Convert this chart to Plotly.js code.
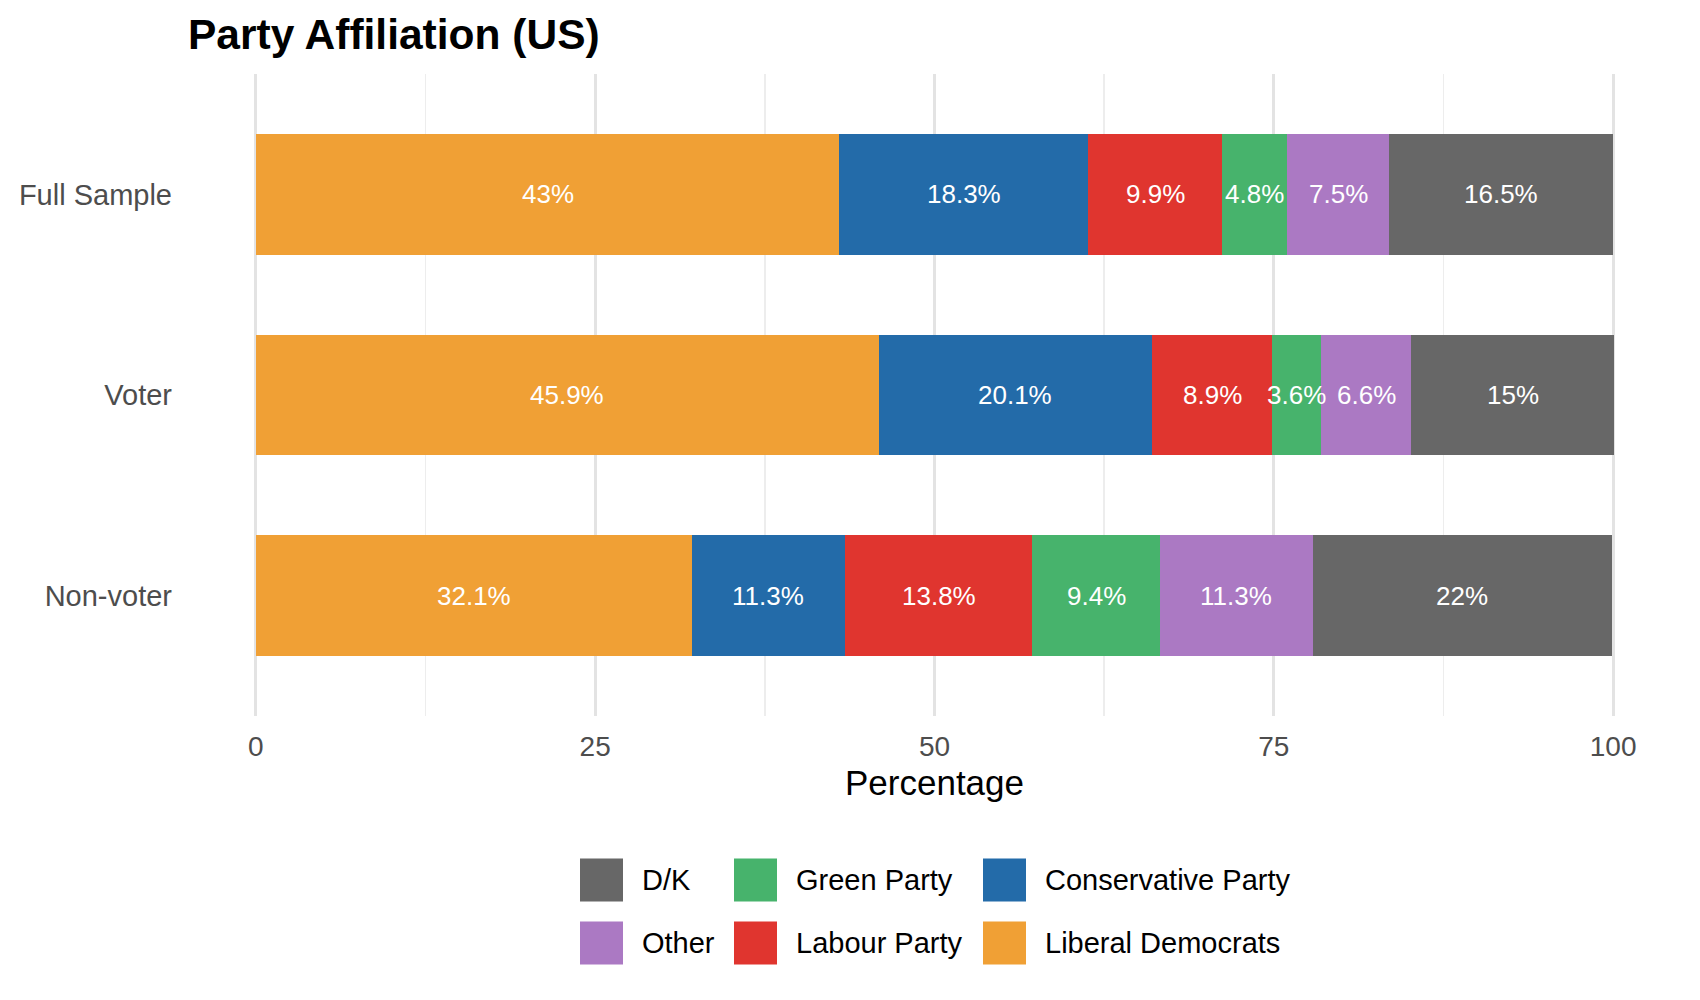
<!DOCTYPE html>
<html>
<head>
<meta charset="utf-8">
<script src="https://cdn.plot.ly/plotly-3.0.1.min.js"></script>
<style>html,body{margin:0;padding:0;background:#fff;}#chart{width:1700px;height:1000px;}</style>
</head>
<body>
<div id="chart"></div>
<script>
// ---- data ----
const groups = ["Full Sample", "Voter", "Non-voter"];
const parties = ["Liberal Democrats", "Conservative Party", "Labour Party", "Green Party", "Other", "D/K"];
const liberalDemocrats = [43, 45.9, 32.1];
const conservativeParty = [18.3, 20.1, 11.3];
const labourParty = [9.9, 8.9, 13.8];
const greenParty = [4.8, 3.6, 9.4];
const other = [7.5, 6.6, 11.3];
const dontKnow = [16.5, 15, 22];
const xTicks = [0, 25, 50, 75, 100];
const partyColors = ["#F0A035", "#236BA9", "#E0352F", "#47B36C", "#AB79C3", "#676767"];
// legend order (column-major, 3 columns x 2 rows)
const legendOrder = ["D/K", "Other", "Green Party", "Labour Party", "Conservative Party", "Liberal Democrats"];

const series = [liberalDemocrats, conservativeParty, labourParty, greenParty, other, dontKnow];
const FONT = "Liberation Sans, Arial, Helvetica, sans-serif";

const W = 1700, H = 1000;
const M = {l: 188, r: 19, t: 74, b: 284};
const PW = W - M.l - M.r, PH = H - M.t - M.b;
const px2x = p => (p - M.l) / PW;
const px2y = p => (H - M.b - p) / PH;

const traces = parties.map((name, i) => ({
  type: "bar",
  orientation: "h",
  name: name,
  y: groups,
  x: series[i],
  marker: {color: partyColors[i], line: {width: 0}},
  hoverinfo: "name+x",
  showlegend: false
}));

// bar labels centred on each segment (via data coordinates)
const annotations = [];
groups.forEach((g, gi) => {
  let cum = 0;
  series.forEach((s) => {
    const v = s[gi];
    annotations.push({
      x: cum + v / 2, y: g, xref: "x", yref: "y",
      text: String(v) + "%", showarrow: false,
      font: {family: FONT, size: 26, color: "#FFFFFF"},
      xanchor: "center", yanchor: "middle"
    });
    cum += v;
  });
});

// custom legend (3 columns, 2 rows, column-major)
const colX = [580, 734, 983];
const rowY = [880, 943];
const sw = 43;
const shapes = [];
legendOrder.forEach((name, k) => {
  const col = Math.floor(k / 2), row = k % 2;
  const color = partyColors[parties.indexOf(name)];
  const x0 = colX[col], yc = rowY[row];
  shapes.push({
    type: "rect", xref: "paper", yref: "paper",
    x0: px2x(x0), x1: px2x(x0 + sw),
    y0: px2y(yc + sw / 2), y1: px2y(yc - sw / 2),
    fillcolor: color, line: {width: 0}
  });
  annotations.push({
    xref: "paper", yref: "paper",
    x: px2x(x0 + sw + 17), y: px2y(yc),
    text: name, showarrow: false,
    xanchor: "left", yanchor: "middle",
    font: {family: FONT, size: 29, color: "#000000"}
  });
});

const layout = {
  width: W, height: H,
  margin: M,
  paper_bgcolor: "#FFFFFF", plot_bgcolor: "#FFFFFF",
  barmode: "stack",
  bargap: 0.4,
  showlegend: false,
  title: {
    text: "<b>Party Affiliation (US)</b>",
    font: {family: FONT, size: 42.5, color: "#000000"},
    xref: "paper", x: 0, xanchor: "left",
    yref: "container", y: 1 - 34 / H, yanchor: "middle"
  },
  xaxis: {
    range: [-5, 105],
    tickvals: xTicks,
    ticktext: xTicks.map(String),
    showgrid: true, gridcolor: "#E3E3E3", gridwidth: 2.8,
    minor: {dtick: 12.5, tick0: 0, showgrid: true, gridcolor: "#EDEDED", gridwidth: 1.6, ticks: ""},
    zeroline: false, showline: false, ticks: "",
    ticklabelstandoff: 11,
    tickfont: {family: FONT, size: 28, color: "#4D4D4D"},
    title: {text: "Percentage", font: {family: FONT, size: 35, color: "#000000"}, standoff: 9},
    fixedrange: true
  },
  yaxis: {
    type: "category",
    categoryorder: "array", categoryarray: groups,
    range: [2.6, -0.6],
    showgrid: false, zeroline: false, showline: false, ticks: "",
    ticklabelstandoff: 15,
    tickfont: {family: FONT, size: 29, color: "#4D4D4D"},
    fixedrange: true
  },
  annotations: annotations,
  shapes: shapes
};

Plotly.newPlot("chart", traces, layout, {displayModeBar: false, staticPlot: true});
</script>
</body>
</html>
